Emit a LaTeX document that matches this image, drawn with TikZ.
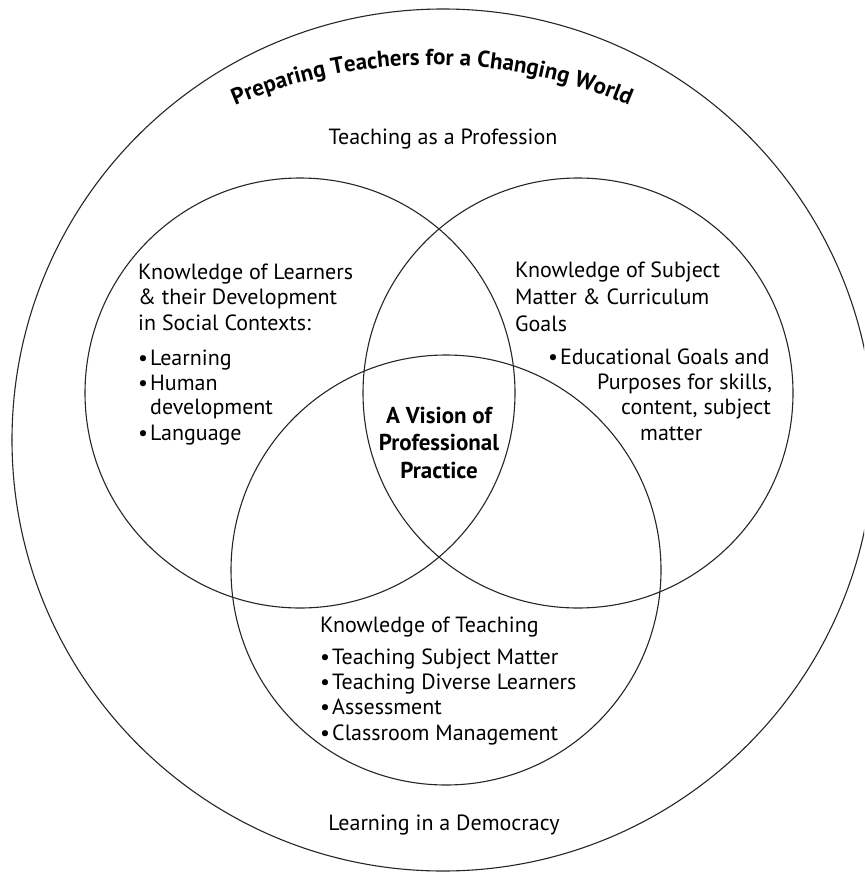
\documentclass[tikz,border=0pt]{standalone}
\usepackage{fontspec}
\setmainfont{PT Sans}
\usetikzlibrary{decorations.text}
\newcommand\mybul{\makebox[12pt][l]{\textbullet}}
\begin{document}
\begin{tikzpicture}[x=1pt,y=-1pt,
  ring/.style={circle, draw=black!85, line width=1.1pt, inner sep=0pt, outer sep=0pt},
  txt/.style={font=\fontsize{22}{26}\selectfont, inner sep=0pt},
  lft/.style={txt, anchor=base west},
  mid/.style={txt, anchor=base},
  bmid/.style={font=\fontsize{23}{27}\selectfont\bfseries, inner sep=0pt, anchor=base}]
\useasboundingbox (0,0) rectangle (864,872);
\clip (0,0) rectangle (864,872);
% circles
\node[ring, minimum size=862pt] (outer) at (443,440) {};
\node[ring, minimum size=430pt] (learners) at (300,393) {};
\node[ring, minimum size=430pt] (subject) at (578,393) {};
\node[ring, minimum size=430pt] (teaching) at (446,570) {};
% title along arc
\coordinate (tc) at (432,565);
\path[decorate, decoration={text along path, text align=center,
  text={|\fontsize{23}{26}\selectfont\bfseries|Preparing Teachers for a Changing World}}]
  ([shift={(230:500)}]tc) arc[start angle=230, end angle=310, radius=500];
% outer texts
\node[mid] (prof) at (443,144) {Teaching as a Profession};
\node[mid] (demo) at (444,830) {Learning in a Democracy};
% left circle
\node[lft] (l1) at (138,279) {Knowledge of Learners};
\node[lft] (l2) at (138,304) {\& their Development};
\node[lft] (l3) at (138,330) {in Social Contexts:};
\node[lft] (l4) at (138,365) {\mybul Learning};
\node[lft] (l5) at (138,390) {\mybul Human};
\node[lft] (l6) at (150,414) {development};
\node[lft] (l7) at (138,440) {\mybul Language};
% right circle
\node[lft] (r1) at (515,277) {Knowledge of Subject};
\node[lft] (r2) at (515,304) {Matter \& Curriculum};
\node[lft] (r3) at (515,331) {Goals};
\node[lft] (r4) at (548,364) {\mybul Educational Goals and};
\node[lft] (r5) at (597,389) {Purposes for skills,};
\node[lft] (r6) at (621,414) {content, subject};
\node[lft] (r7) at (640,440) {matter};
% center
\node[bmid] (c1) at (439,423) {A Vision of};
\node[bmid] (c2) at (439,450) {Professional};
\node[bmid] (c3) at (439,478) {Practice};
% bottom circle
\node[lft] (b1) at (320,632) {Knowledge of Teaching};
\node[lft] (b2) at (320,664) {\mybul Teaching Subject Matter};
\node[lft] (b3) at (320,689) {\mybul Teaching Diverse Learners};
\node[lft] (b4) at (320,714) {\mybul Assessment};
\node[lft] (b5) at (320,740) {\mybul Classroom Management};
\end{tikzpicture}
\end{document}
